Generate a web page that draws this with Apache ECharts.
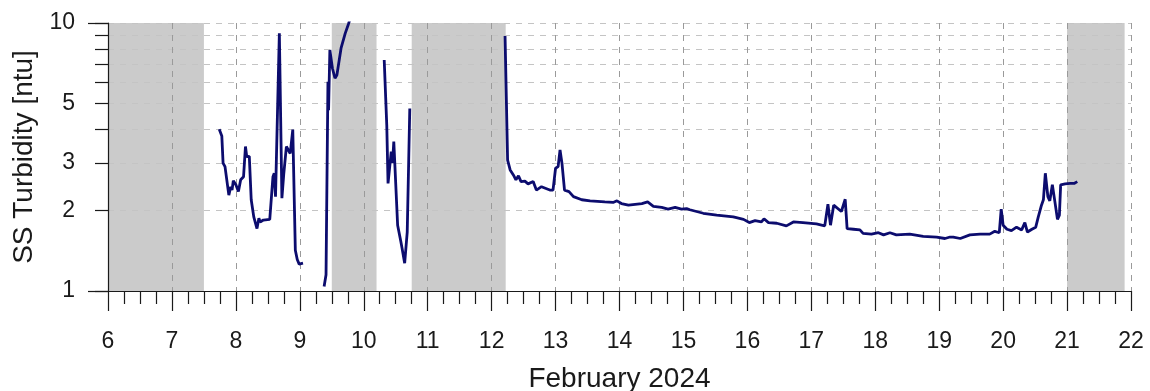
<!DOCTYPE html>
<html>
<head>
<meta charset="utf-8">
<script src="https://cdn.jsdelivr.net/npm/echarts@6/dist/echarts.min.js"></script>
<style>
  html, body { margin: 0; padding: 0; background: #ffffff; }
  #chart { width: 1150px; height: 391px; }
</style>
</head>
<body>
<div id="chart"></div>
<script>
// Suspended-solids turbidity record, February 2024 (day of month vs ntu).
// null entries mark gaps in the record.
const days = [
  7.74, 7.78, 7.80, 7.83, 7.89, 7.92, 7.94, 7.96, 8.00, 8.04, 8.075, 8.12, 8.15, 8.17, 8.21,
  8.24, 8.28, 8.33, 8.36, 8.38, 8.43, 8.53, 8.58, 8.60, 8.62, 8.68, 8.72, 8.75, 8.79, 8.82,
  8.85, 8.89, 8.93, 8.96, 8.99, 9.05,
  9.20,
  9.38, 9.41, 9.44, 9.45, 9.47, 9.51, 9.55, 9.58, 9.645, 9.71, 9.76, 9.80,
  10.00,
  10.32, 10.36, 10.38, 10.43, 10.45, 10.47, 10.53, 10.58, 10.60, 10.64, 10.68, 10.72,
  11.00,
  12.21, 12.25, 12.29, 12.34, 12.38, 12.42, 12.46, 12.52, 12.57, 12.65, 12.70, 12.78, 12.91,
  12.96, 13.00, 13.04, 13.07, 13.10, 13.14, 13.21, 13.28, 13.41, 13.54, 13.77, 13.90, 13.96,
  14.03, 14.14, 14.35, 14.44, 14.53, 14.66, 14.76, 14.87, 14.97, 15.05, 15.10, 15.31, 15.52,
  15.78, 15.94, 16.03, 16.12, 16.22, 16.26, 16.33, 16.46, 16.61, 16.72, 16.87, 17.08, 17.21,
  17.26, 17.30, 17.35, 17.47, 17.53, 17.56, 17.66, 17.76, 17.81, 17.94, 18.05, 18.13, 18.23,
  18.33, 18.54, 18.75, 18.96, 19.09, 19.17, 19.22, 19.33, 19.48, 19.64, 19.79, 19.87, 19.94,
  19.97, 20.00, 20.06, 20.13, 20.21, 20.29, 20.34, 20.38, 20.45, 20.51, 20.55, 20.60, 20.63,
  20.66, 20.70, 20.73, 20.77, 20.81, 20.85, 20.88, 20.90, 20.97, 21.05, 21.11, 21.16
];
const turbidity = [
  4.01, 3.79, 3.00, 2.91, 2.28, 2.45, 2.38, 2.58, 2.49, 2.35, 2.60, 2.67, 3.46, 3.17, 3.18,
  2.19, 1.89, 1.71, 1.87, 1.81, 1.84, 1.85, 2.67, 2.75, 2.25, 9.15, 2.22, 2.75, 3.46, 3.46,
  3.26, 4.00, 1.42, 1.31, 1.26, 1.27,
  null,
  1.04, 1.15, 6.04, 4.73, 7.93, 6.78, 6.22, 6.40, 8.05, 9.15, 9.90, 10.6,
  null,
  7.28, 4.16, 2.52, 3.31, 3.00, 3.61, 1.76, 1.53, 1.44, 1.27, 1.66, 4.80,
  null,
  8.94, 3.08, 2.83, 2.71, 2.60, 2.69, 2.56, 2.57, 2.51, 2.56, 2.38, 2.45, 2.38,
  2.38, 2.87, 2.91, 3.36, 3.00, 2.38, 2.35, 2.25, 2.19, 2.17, 2.15, 2.14, 2.17,
  2.12, 2.09, 2.12, 2.15, 2.07, 2.05, 2.02, 2.05, 2.02, 2.03, 2.01, 1.95, 1.92,
  1.89, 1.85, 1.80, 1.83, 1.81, 1.86, 1.80, 1.79, 1.75, 1.81, 1.80, 1.78, 1.75,
  2.11, 1.76, 2.09, 1.98, 2.20, 1.71, 1.70, 1.69, 1.64, 1.63, 1.65, 1.62, 1.65,
  1.62, 1.63, 1.60, 1.59, 1.57, 1.59, 1.59, 1.57, 1.62, 1.63, 1.63, 1.67, 1.65,
  2.02, 1.76, 1.70, 1.68, 1.73, 1.69, 1.80, 1.66, 1.70, 1.73, 1.89, 2.09, 2.19,
  2.75, 2.25, 2.17, 2.49, 2.15, 1.85, 1.92, 2.49, 2.51, 2.52, 2.52, 2.56
];

// Periods without valid measurements (shaded)
const shadedFrom = [6.0, 9.5, 10.75, 21.0];
const shadedTo   = [7.5, 10.2, 12.22, 21.9];

// Axis ticks and labels
const xTickLabels = [6, 7, 8, 9, 10, 11, 12, 13, 14, 15, 16, 17, 18, 19, 20, 21, 22];
const yTickValues = [1, 2, 3, 4, 5, 6, 7, 8, 9, 10];
const yLabelValues = [1, 2, 3, 5, 10];
const yMajorTicks = [1, 10];

const FONT = '"Liberation Sans", Arial, sans-serif';
const INK = '#1a1a1a';

const seriesData = days.map((d, i) => [d, turbidity[i]]);
const shading = shadedFrom.map((a, i) => [{ xAxis: a }, { xAxis: shadedTo[i] }]);

const chart = echarts.init(document.getElementById('chart'), null, { renderer: 'canvas' });

chart.setOption({
  animation: false,
  backgroundColor: '#ffffff',
  grid: { left: 108, right: 19, top: 23, bottom: 100, containLabel: false, outerBoundsMode: 'none' },
  xAxis: {
    type: 'value',
    min: xTickLabels[0],
    max: xTickLabels[xTickLabels.length - 1],
    interval: 1,
    z: 2,
    name: 'February 2024',
    nameLocation: 'middle',
    nameGap: 74,
    nameTextStyle: { fontFamily: FONT, fontSize: 28, color: INK },
    axisLine: { show: true, lineStyle: { color: INK, width: 1.2 } },
    axisTick: { show: true, length: 20, lineStyle: { color: INK, width: 1.2 } },
    minorTick: { show: true, splitNumber: 4, length: 13, lineStyle: { color: INK, width: 1.2 } },
    axisLabel: {
      margin: 39, fontFamily: FONT, fontSize: 23, color: INK,
      formatter: v => (xTickLabels.indexOf(v) >= 0 ? String(v) : '')
    },
    splitLine: { show: true, lineStyle: { color: '#9a9a9a', type: [6, 6], width: 1 } },
    minorSplitLine: { show: false }
  },
  yAxis: [
    {
      type: 'log',
      logBase: 10,
      min: 1,
      max: 10,
      z: 2,
      name: 'SS Turbidity [ntu]',
      nameLocation: 'middle',
      nameGap: 66,
      nameTextStyle: { fontFamily: FONT, fontSize: 28, color: INK },
      axisLine: { show: true, lineStyle: { color: INK, width: 1.2 } },
      axisTick: { show: true, length: 13, customValues: yTickValues, lineStyle: { color: INK, width: 1.2 } },
      axisLabel: {
        margin: 33, fontFamily: FONT, fontSize: 23, color: INK,
        customValues: yLabelValues,
        formatter: v => String(Math.round(v))
      },
      splitLine: { show: true, lineStyle: { color: '#c4c4c4', type: [6, 6], width: 1 } }
    },
    {
      type: 'log',
      logBase: 10,
      min: 1,
      max: 10,
      position: 'left',
      z: 2,
      axisLine: { show: false },
      axisTick: { show: true, length: 20, customValues: yMajorTicks, lineStyle: { color: INK, width: 1.2 } },
      axisLabel: { show: false },
      splitLine: { show: false }
    }
  ],
  series: [
    {
      type: 'line',
      data: seriesData,
      yAxisIndex: 0,
      z: 3,
      showSymbol: false,
      symbol: 'none',
      connectNulls: false,
      clip: true,
      lineStyle: { color: '#0c0c6e', width: 2.8 },
      markArea: {
        silent: true,
        z: 1,
        itemStyle: { color: '#cbcbcb', opacity: 1 },
        data: shading
      }
    }
  ]
});
</script>
</body>
</html>
